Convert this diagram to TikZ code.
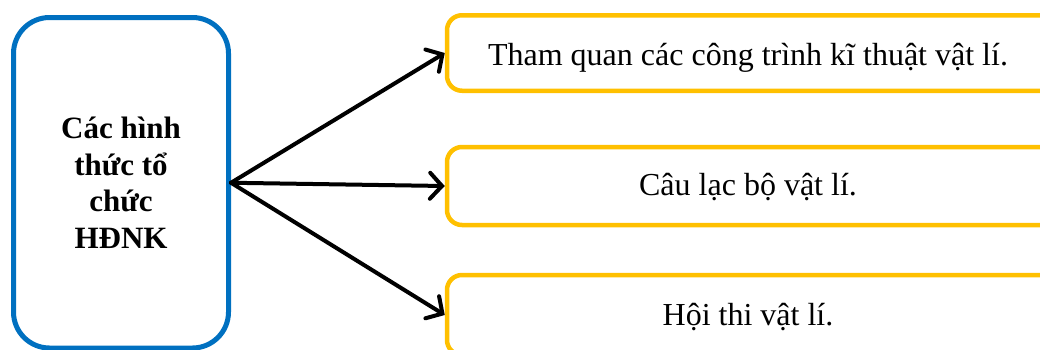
\documentclass[tikz,border=0pt]{standalone}
\usepackage{fontspec}
\setmainfont{Liberation Serif}
\usetikzlibrary{arrows.meta}
\definecolor{boxblue}{HTML}{0070C0}
\definecolor{boxgold}{HTML}{FFC000}
\begin{document}
\begin{tikzpicture}[x=1pt,y=-1pt,
  mainbox/.style={draw=boxblue, line width=5pt, rounded corners=36pt,
    minimum width=215pt, minimum height=330.5pt, inner sep=0pt,
    align=center, font=\fontsize{31}{36.5}\selectfont\bfseries},
  itembox/.style={draw=boxgold, line width=4.5pt, rounded corners=15pt,
    minimum width=620pt, inner sep=0pt, anchor=west},
  itemtext/.style={anchor=base, inner sep=0pt, font=\fontsize{32}{38}\selectfont},
  link/.style={draw=black, line width=4pt, line cap=round,
    -{Straight Barb[length=12pt,width=26pt,line cap=round]}}]
\useasboundingbox (0,0) rectangle (1040,349);

% left box with the topic
\node[mainbox] (topic) at (121,182.75)
  {Các hình\\thức tổ\\chức\\HĐNK};

% three boxes on the right
\node[itembox, minimum height=75.5pt] (b1) at (444.75,53) {};
\node[itembox, minimum height=78pt] (b2) at (444.75,186) {};
\node[itembox, minimum height=80pt] (b3) at (444.75,315) {};

\node[itemtext] (t1) at (748,65) {Tham quan các công trình kĩ thuật vật lí.};
\node[itemtext] (t2) at (748,195) {Câu lạc bộ vật lí.};
\node[itemtext] (t3) at (748,325) {Hội thi vật lí.};

% connectors
\path[link] (topic.east) -- (b1.west);
\path[link] (topic.east) -- (b2.west);
\path[link] (topic.east) -- (b3.west);
\end{tikzpicture}
\end{document}
